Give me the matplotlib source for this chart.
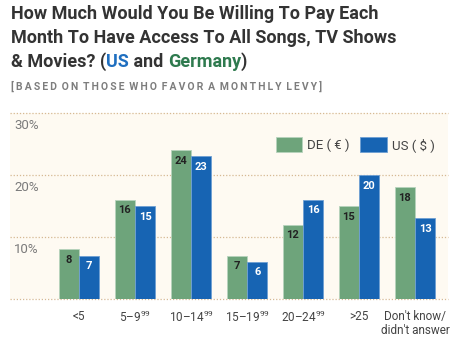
import matplotlib
matplotlib.use("Agg")
import matplotlib.pyplot as plt
import numpy as np

categories = ["<5", "5–9$^{99}$", "10–14$^{99}$", "15–19$^{99}$", "20–24$^{99}$", ">25", "Don't know/\ndidn't answer"]
de_values = [8, 16, 24, 7, 12, 15, 18]
us_values = [7, 15, 23, 6, 16, 20, 13]
yticks = [10, 20, 30]
ytick_labels = ["10%", "20%", "30%"]

GREEN = "#6ea47b"
BLUE = "#1764b3"
CREAM = "#fefaf2"
TXT = "#333333"

plt.rcParams['font.family'] = ['Roboto', 'DejaVu Sans']
plt.rcParams['mathtext.fontset'] = 'custom'
plt.rcParams['mathtext.rm'] = 'Roboto'
plt.rcParams['mathtext.it'] = 'Roboto'
plt.rcParams['mathtext.bf'] = 'Roboto:bold'

W, H = 457, 347
fig = plt.figure(figsize=(W / 100, H / 100), dpi=100)
ax = fig.add_axes([10 / W, (H - 299) / H, 438 / W, 186 / H])
ax.set_facecolor(CREAM)

x = np.arange(len(categories))
bw = 0.366
b1 = ax.bar(x - bw / 2, de_values, bw, color=GREEN, edgecolor="#b7d3bd", linewidth=0.6, label="DE ( € )", zorder=3)
b2 = ax.bar(x + bw / 2, us_values, bw, color=BLUE, edgecolor="#6e9fd3", linewidth=0.6, label="US ( $ )", zorder=3)

for rect, v in zip(b1, de_values):
    ax.annotate(str(v), (rect.get_x() + rect.get_width() / 2, v), xytext=(0, -4), textcoords="offset points",
                ha="center", va="top", fontsize=8, fontweight="bold", color="#222222", zorder=4)
for rect, v in zip(b2, us_values):
    ax.annotate(str(v), (rect.get_x() + rect.get_width() / 2, v), xytext=(0, -4), textcoords="offset points",
                ha="center", va="top", fontsize=8, fontweight="bold", color="white", zorder=4)

ax.set_xlim(-69 / 56, (448 - 79) / 56)
ax.set_ylim(0, 30)
for g in [0] + yticks:
    ax.axhline(g, color="#d6b993", linestyle=(0, (1, 1.5)), linewidth=0.9, zorder=1, clip_on=False)
for t, lab in zip(yticks, ytick_labels):
    ax.annotate(lab, (0, t), xycoords=("axes fraction", "data"), xytext=(3, -4.5), textcoords="offset points",
                ha="left", va="top", fontsize=9.5, color="#7a7a7a")

ax.set_yticks([])
ax.set_xticks(x)
ax.set_xticklabels(categories, fontsize=8.5, color="#444444", linespacing=1.1)
ax.tick_params(axis="x", length=0, pad=8)
for s in ax.spines.values():
    s.set_visible(False)

ax.legend(loc="center right", bbox_to_anchor=(0.985, 0.83), ncol=2, frameon=False, fontsize=9.5,
          handlelength=2.0, handleheight=1.3, columnspacing=0.8, handletextpad=0.4, borderpad=0,
          labelcolor="#444444")

# Title
tkw = dict(fontsize=13, fontweight="bold", color=TXT, va="baseline", ha="left")
fig.text(11 / W, 1 - 19 / H, "How Much Would You Be Willing To Pay Each", **tkw)
fig.text(11 / W, 1 - 43 / H, "Month To Have Access To All Songs, TV Shows", **tkw)
t1 = fig.text(11 / W, 1 - 67 / H, "& Movies? (", **tkw)
akw = dict(xy=(1, 0), va="bottom", ha="left", fontsize=13, fontweight="bold", annotation_clip=False)
a2 = fig.add_artist(matplotlib.text.Annotation("US", xycoords=t1, color="#1f6fc0", **akw))
a3 = fig.add_artist(matplotlib.text.Annotation(" and ", xycoords=a2, color=TXT, **akw))
a4 = fig.add_artist(matplotlib.text.Annotation("Germany", xycoords=a3, color="#2e7a4e", **akw))
a5 = fig.add_artist(matplotlib.text.Annotation(")", xycoords=a4, color=TXT, **akw))

sub = "[BASED ON THOSE WHO FAVOR A MONTHLY LEVY]"
sub_spaced = " \u2009".join("\u2009".join(w) for w in sub.split(" "))
fig.text(11 / W, 1 - 90 / H, sub_spaced, fontsize=7.5, fontweight="bold", color="#7d7d7d", va="baseline", ha="left")

fig.savefig("out.png", dpi=100, facecolor="white")
